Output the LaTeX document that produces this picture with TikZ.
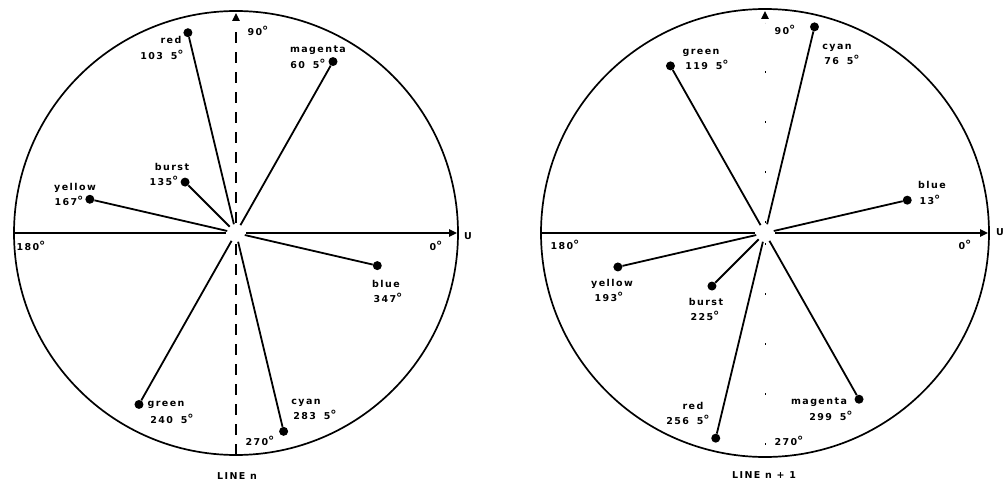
\documentclass[tikz,border=0pt]{standalone}
\usepackage{fontspec}
\setmainfont{DejaVu Sans}
\newfontfamily\lblfont{DejaVu Sans}[LetterSpace=15]
\newcommand\dg{{\fontsize{12.5}{12}\selectfont °}}
\usetikzlibrary{calc,arrows.meta}
\begin{document}
\begin{tikzpicture}[x=1pt,y=1pt,
  rim/.style={line width=1.7pt},
  axis/.style={line width=1.3pt},
  vaxis/.style={line width=1.1pt, dash pattern=on 11pt off 9pt},
  vfaint/.style={line width=0.9pt, dash pattern=on 2pt off 48pt},
  spoke/.style={line width=1.8pt},
  dot/.style={circle, fill=black, inner sep=0pt, minimum size=9pt},
  lbl/.style={font=\lblfont\bfseries\fontsize{9.5}{10}\selectfont, inner sep=0pt, text height=7pt, text depth=1.8pt},
  tipA/.style={-{Triangle[length=8pt,width=7.5pt]}}
]
\useasboundingbox (0,0) rectangle (1004,483);
% ---------------- LEFT: LINE n ----------------
\coordinate (c1) at (236,250);
\draw[rim] (c1) circle[radius=222];
\coordinate (l-w) at ($(c1)+(-222,0)$);
\coordinate (l-wi) at ($(c1)+(-10,0)$);
\coordinate (l-ei) at ($(c1)+(10,0)$);
\coordinate (l-e) at ($(c1)+(221,0)$);
\coordinate (l-s) at ($(c1)+(0,-222)$);
\coordinate (l-si) at ($(c1)+(0,-10)$);
\coordinate (l-ni) at ($(c1)+(0,10)$);
\coordinate (l-n) at ($(c1)+(0,220)$);
\draw[axis] (l-w) -- (l-wi);
\draw[axis,tipA] (l-ei) -- (l-e);
\draw[vaxis] (l-s) -- (l-si);
\draw[vaxis] (l-ni) -- ($(c1)+(0,205)$);
\draw[axis,tipA] ($(c1)+(0,213)$) -- (l-n);

\node[dot] (l-red) at ($(c1)+(103.5:206)$) {};
\node[dot] (l-mag) at ($(c1)+(60.5:197)$) {};
\node[dot] (l-bur) at ($(c1)+(135:72)$) {};
\node[dot] (l-yel) at ($(c1)+(167:150)$) {};
\node[dot] (l-blu) at ($(c1)+(347:145)$) {};
\node[dot] (l-grn) at ($(c1)+(240.5:197)$) {};
\node[dot] (l-cya) at ($(c1)+(283.5:204)$) {};
\foreach \n in {l-red,l-mag,l-bur,l-yel,l-blu,l-grn,l-cya}
  \draw[spoke] (\n) -- ($(c1)!9pt!(\n)$);

\node[lbl] (l-t90) at (258,450) {90\dg};
\node[lbl] (l-tred) at (171,442) {red};
\node[lbl] (l-vred) at (162,426) {103\hspace{3pt} 5\dg};
\node[lbl] (l-tmag) at (318,433) {magenta};
\node[lbl] (l-vmag) at (308,417) {60\hspace{3pt} 5\dg};
\node[lbl] (l-tbur) at (172,315) {burst};
\node[lbl] (l-vbur) at (164,300) {135\dg};
\node[lbl] (l-tyel) at (75,295) {yellow};
\node[lbl] (l-vyel) at (69,280) {167\dg};
\node[lbl] (l-t180) at (31,235) {180\dg};
\node[lbl] (l-t0) at (436,235) {0\dg};
\node[lbl] (l-U) at (468,246) {U};
\node[lbl] (l-tblu) at (386,198) {blue};
\node[lbl] (l-vblu) at (388,183) {347\dg};
\node[lbl] (l-tgrn) at (166,79) {green};
\node[lbl] (l-vgrn) at (172,62) {240\hspace{3pt} 5\dg};
\node[lbl] (l-tcya) at (306,81) {cyan};
\node[lbl] (l-vcya) at (315,66) {283\hspace{3pt} 5\dg};
\node[lbl] (l-t270) at (260,40) {270\dg};
\node[lbl] (l-line) at (237,6) {LINE n};

% ---------------- RIGHT: LINE n+1 ----------------
\coordinate (c2) at (765,250);
\draw[rim] (c2) circle[radius=224];
\coordinate (r-w) at ($(c2)+(-224,0)$);
\coordinate (r-wi) at ($(c2)+(-10,0)$);
\coordinate (r-ei) at ($(c2)+(10,0)$);
\coordinate (r-e) at ($(c2)+(223,0)$);
\coordinate (r-s) at ($(c2)+(0,-224)$);
\coordinate (r-si) at ($(c2)+(0,-10)$);
\coordinate (r-ni) at ($(c2)+(0,10)$);
\coordinate (r-n) at ($(c2)+(0,222)$);
\draw[axis] (r-w) -- (r-wi);
\draw[axis,tipA] (r-ei) -- (r-e);
\draw[vfaint] (r-si) -- (r-s);
\draw[vfaint] (r-ni) -- ($(c2)+(0,210)$);
\draw[axis,tipA] ($(c2)+(0,215)$) -- (r-n);

\node[dot] (r-cya) at ($(c2)+(76.5:212)$) {};
\node[dot] (r-grn) at ($(c2)+(119.5:192)$) {};
\node[dot] (r-blu) at ($(c2)+(13:146)$) {};
\node[dot] (r-yel) at ($(c2)+(193:151)$) {};
\node[dot] (r-bur) at ($(c2)+(225:75)$) {};
\node[dot] (r-red) at ($(c2)+(256.5:211)$) {};
\node[dot] (r-mag) at ($(c2)+(299.5:191)$) {};
\foreach \n in {r-cya,r-grn,r-blu,r-yel,r-bur,r-red,r-mag}
  \draw[spoke] (\n) -- ($(c2)!9pt!(\n)$);

\node[lbl] (r-t90) at (785,451) {90\dg};
\node[lbl] (r-tcya) at (837,436) {cyan};
\node[lbl] (r-vcya) at (842,421) {76\hspace{3pt} 5\dg};
\node[lbl] (r-tgrn) at (701,431) {green};
\node[lbl] (r-vgrn) at (707,416) {119\hspace{3pt} 5\dg};
\node[lbl] (r-tblu) at (932,297) {blue};
\node[lbl] (r-vblu) at (930,281) {13\dg};
\node[lbl] (r-t180) at (565,236) {180\dg};
\node[lbl] (r-t0) at (965,236) {0\dg};
\node[lbl] (r-U) at (1000,250) {U};
\node[lbl] (r-tyel) at (612,199) {yellow};
\node[lbl] (r-vyel) at (609,184) {193\dg};
\node[lbl] (r-tbur) at (706,180) {burst};
\node[lbl] (r-vbur) at (705,165) {225\dg};
\node[lbl] (r-tred) at (693,76) {red};
\node[lbl] (r-vred) at (688,61) {256\hspace{3pt} 5\dg};
\node[lbl] (r-tmag) at (819,81) {magenta};
\node[lbl] (r-vmag) at (831,65) {299\hspace{3pt} 5\dg};
\node[lbl] (r-t270) at (789,40) {270\dg};
\node[lbl] (r-line) at (764,7) {LINE n + 1};
\end{tikzpicture}
\end{document}
